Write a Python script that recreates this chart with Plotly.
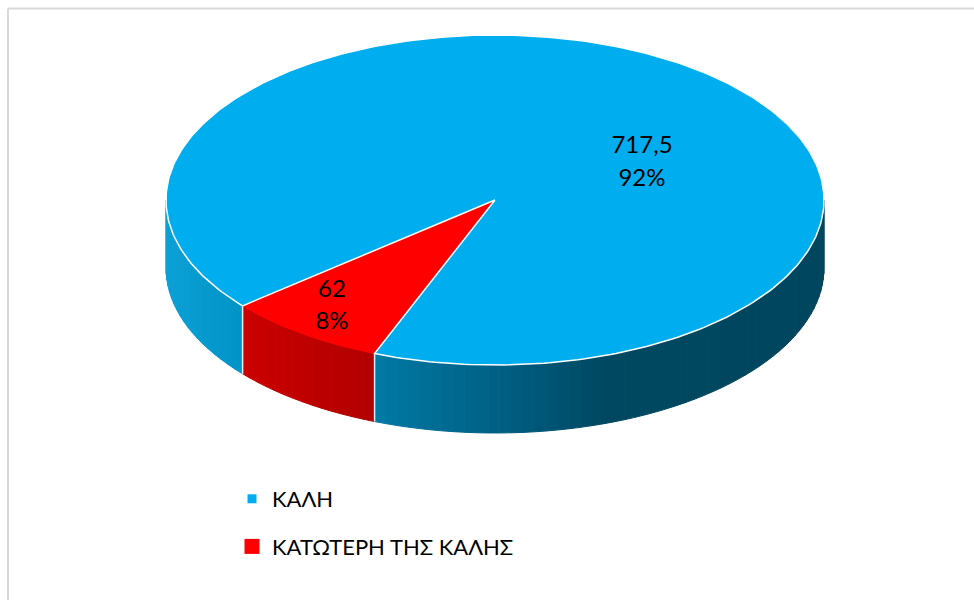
import math
import plotly.graph_objects as go

# Data
categories = ["ΚΑΛΗ", "ΚΑΤΩΤΕΡΗ ΤΗΣ ΚΑΛΗΣ"]
values = [717.5, 62]
top_colors = ["#00AEEF", "#FF0000"]
first_slice_angle = 230.1  # clockwise from north, degrees

# Projection of the disc on the page (pixels)
CX, CY, RX, RY, DEPTH = 495, 200, 329, 165, 68
FONT = "Lato, 'Noto Sans', sans-serif"

BLUE_STOPS = [(166, (12, 160, 214)), (242, (0, 147, 198)), (374, (0, 122, 165)),
              (510, (0, 93, 128)), (610, (0, 71, 96)), (825, (0, 70, 95))]
RED_STOPS = [(242, (204, 0, 0)), (374, (176, 0, 0))]


def shade(stops, x):
    if x <= stops[0][0]:
        c = stops[0][1]
    elif x >= stops[-1][0]:
        c = stops[-1][1]
    else:
        for (x0, c0), (x1, c1) in zip(stops, stops[1:]):
            if x0 <= x <= x1:
                f = (x - x0) / (x1 - x0)
                c = tuple(a + (b - a) * f for a, b in zip(c0, c1))
                break
    return "rgb({:.0f},{:.0f},{:.0f})".format(*c)


def pt(t, dz=0):
    a = math.radians(t)
    return CX + RX * math.cos(a), CY + RY * math.sin(a) + dz


total = sum(values)
spans = []
start = first_slice_angle - 90
for v in values:
    sweep = v / total * 360
    spans.append((start, start + sweep))
    start += sweep

fig = go.Figure()


def add_poly(xs, ys, fill, line=None, width=1):
    fig.add_trace(go.Scatter(x=xs, y=ys, mode="lines", fill="toself", fillcolor=fill,
                             line=dict(color=line or fill, width=width),
                             hoverinfo="skip", showlegend=False))


# Side walls, front half of the disc only
for (a, b), stops in zip(spans, (BLUE_STOPS, RED_STOPS)):
    for offset in (-360, 0, 360):
        lo, hi = max(a + offset, 0), min(b + offset, 180)
        if hi <= lo:
            continue
        n = max(1, int((hi - lo) / 2))
        for i in range(n):
            t0, t1 = lo + (hi - lo) * i / n, lo + (hi - lo) * (i + 1) / n
            p0, p1 = pt(t0), pt(t1)
            add_poly([p0[0], p1[0], p1[0], p0[0], p0[0]],
                     [p0[1], p1[1], p1[1] + DEPTH, p0[1] + DEPTH, p0[1]],
                     shade(stops, (p0[0] + p1[0]) / 2))

# White seams between the slices on the wall
for a, b in spans:
    t = b % 360
    x, y = pt(t)
    fig.add_trace(go.Scatter(x=[x, x], y=[y, y + DEPTH], mode="lines",
                             line=dict(color="#E8F4F8", width=1.5),
                             hoverinfo="skip", showlegend=False))


def sector(a, b):
    n = max(2, int((b - a) / 1.0))
    pts = [pt(a + (b - a) * i / n) for i in range(n + 1)]
    return [CX] + [p[0] for p in pts] + [CX], [CY] + [p[1] for p in pts] + [CY]


# Top faces: red first, blue's white outline runs over the shared edges
xs, ys = sector(*spans[1])
add_poly(xs, ys, top_colors[1])
xs, ys = sector(*spans[0])
add_poly(xs, ys, top_colors[0], line="#FFFFFF", width=1.5)

# Data labels
label_x = [642, 332]
label_y = [[147, 180], [291, 323]]
for v, lx, ly in zip(values, label_x, label_y):
    txt = [f"{v:g}".replace(".", ","), f"{round(v / total * 100)}%"]
    fig.add_trace(go.Scatter(x=[lx, lx], y=ly, mode="text", text=txt,
                             textposition="middle center",
                             textfont=dict(family=FONT, size=24, color="#000000"),
                             hoverinfo="skip", showlegend=False))

# Legend entries
for i, (name, col, size) in enumerate(zip(categories, top_colors, (9, 15))):
    fig.add_trace(go.Scatter(x=[None], y=[None], mode="markers", name=name,
                             legendgroup=name,
                             marker=dict(symbol="square", color=col, size=size)))

fig.update_layout(
    width=974, height=600, margin=dict(l=0, r=0, t=0, b=0),
    paper_bgcolor="#FFFFFF", plot_bgcolor="#FFFFFF",
    xaxis=dict(visible=False, range=[0, 974], fixedrange=True),
    yaxis=dict(visible=False, range=[600, 0], fixedrange=True),
    legend=dict(x=232 / 974, y=1 - 478 / 600, xanchor="left", yanchor="top",
                font=dict(family=FONT, size=22, color="#000000"),
                tracegroupgap=16, itemsizing="trace", bgcolor="rgba(0,0,0,0)"),
    shapes=[
        dict(type="line", xref="paper", yref="paper", x0=8 / 974, x1=1, y0=1 - 8.5 / 600, y1=1 - 8.5 / 600,
             line=dict(color="#D9D9D9", width=2)),
        dict(type="line", xref="paper", yref="paper", x0=8 / 974, x1=8 / 974, y0=0, y1=1 - 8.5 / 600,
             line=dict(color="#D9D9D9", width=2)),
    ],
)

fig.write_html("out.html", post_script="document.body.style.margin='0';",
               config={"displayModeBar": False})
